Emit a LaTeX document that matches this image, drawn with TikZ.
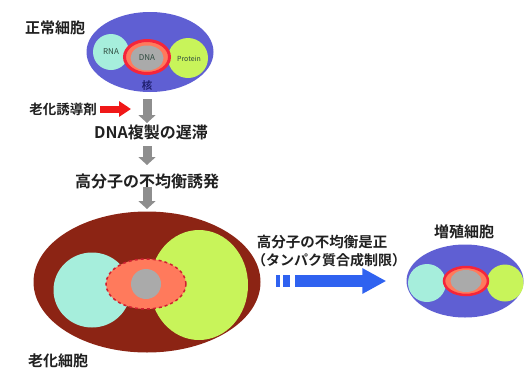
\documentclass[tikz,border=0pt]{standalone}
\usepackage{fontspec}
\newfontfamily\jp{Noto Sans CJK JP Bold}
\newfontfamily\jpl{Noto Sans CJK JP}
\usetikzlibrary{shapes.geometric,arrows.meta}
\definecolor{cellblue}{HTML}{5F5FD3}
\definecolor{rnacyan}{HTML}{A6EEDC}
\definecolor{protgreen}{HTML}{C8F45A}
\definecolor{oldbrown}{HTML}{8C2414}
\definecolor{nucorange}{HTML}{FF7A5C}
\definecolor{nucred}{HTML}{F5253A}
\definecolor{dnagray}{HTML}{AAAAAA}
\definecolor{arrgray}{HTML}{8E8E8E}
\definecolor{arrblue}{HTML}{2F62F0}
\definecolor{arrred}{HTML}{F01818}
\definecolor{txt}{HTML}{202020}
\definecolor{navy}{HTML}{202070}
\definecolor{smalltxt}{HTML}{2E4A3E}
\begin{document}
\begin{tikzpicture}[x=1pt,y=-1pt,
  blob/.style={ellipse,inner sep=0pt,draw=none},
  label/.style={font=\jp\fontsize{15}{15}\selectfont,text=txt,inner sep=0pt},
  small/.style={font=\jpl\fontsize{8}{8}\selectfont,text=smalltxt,inner sep=0pt},
  grayarrow/.style={draw=arrgray,line width=9pt,-{Triangle[width=17pt,length=8pt]}},
  redarrow/.style={draw=arrred,line width=7pt,-{Triangle[width=15pt,length=12pt]}},
  bluearrow/.style={draw=arrblue,line width=12pt,-{Triangle[width=24pt,length=24pt]}}]
\useasboundingbox (0,0) rectangle (524,367);

% normal cell
\node[blob,fill=cellblue,minimum width=127pt,minimum height=80pt] (nc) at (150,52) {};
\node[blob,fill=rnacyan,minimum size=36pt] (rna) at (111,52) {};
\node[blob,fill=protgreen,minimum size=40pt] (prot) at (188,58) {};
\node[blob,fill=nucorange,draw=nucred,line width=3pt,minimum width=45pt,minimum height=33pt] (nuc) at (147,57) {};
\node[blob,fill=dnagray,minimum width=33pt,minimum height=25pt] (dna) at (147,58) {};
\node[small] at (rna.center) {RNA};
\node[small] at (dna.center) {DNA};
\node[small,font=\jpl\fontsize{7}{7}\selectfont] at (189,59) {Protein};
\node[label,font=\jp\fontsize{10.5}{10.5}\selectfont,text=navy] (kaku) at (147,86) {核};
\node[label] (tnormal) at (55,28) {正常細胞};

% induction steps
\node[label,font=\jp\fontsize{13.5}{13.5}\selectfont] (tagent) at (63,109) {老化誘導剤};
\node[label,font=\jp\fontsize{16}{16}\selectfont] (tdna) at (151,132) {DNA複製の遅滞};
\node[label,font=\jp\fontsize{16}{16}\selectfont] (timb) at (147,181) {高分子の不均衡誘発};
\coordinate (redend) at (131,109);
\coordinate (g1a) at (147,99);
\coordinate (g1b) at (147,123);
\coordinate (g2a) at (147,146);
\coordinate (g2b) at (147,165);
\coordinate (g3a) at (147,187);
\coordinate (g3b) at (147,209);
\draw[redarrow] ([xshift=3pt]tagent.east) -- (redend);
\draw[grayarrow] (g1a) -- (g1b);
\draw[grayarrow] (g2a) -- (g2b);

% senescent cell
\node[blob,fill=oldbrown,minimum width=227pt,minimum height=141pt] (oc) at (147,282) {};
\draw[grayarrow] (g3a) -- (g3b);
\node[blob,fill=rnacyan,minimum width=77pt,minimum height=75pt] (orna) at (92,290) {};
\node[blob,fill=protgreen,minimum width=98pt,minimum height=110pt] (oprot) at (199,285) {};
\node[blob,fill=nucorange,draw=nucred!85!black,line width=1.5pt,dashed,minimum width=80pt,minimum height=50pt] (onuc) at (146,284) {};
\node[blob,fill=dnagray,minimum size=30pt] (odna) at (146,284) {};
\node[label] (told) at (58,361) {老化細胞};

% correction and proliferating cell
\node[label,font=\jp\fontsize{14.5}{14.5}\selectfont] (tfix) at (322,242) {高分子の不均衡是正};
\node[label,font=\jp\fontsize{14}{14}\selectfont] (tfixb) at (329,260) {（タンパク質合成制限）};
\node[blob,fill=cellblue,minimum width=117pt,minimum height=73pt] (pc) at (465,281) {};
\node[blob,fill=rnacyan,minimum size=38pt] (prna) at (427,283) {};
\node[blob,fill=protgreen,minimum size=37pt] (pprot) at (505,283) {};
\node[blob,fill=nucorange,draw=nucred,line width=2.5pt,minimum width=44pt,minimum height=28pt] (pnuc) at (466,281) {};
\node[blob,fill=dnagray,minimum width=31pt,minimum height=22pt] (pdna) at (466,281) {};
\node[label] (tpro) at (464,232) {増殖細胞};
\fill[arrblue] (276,275) rectangle (279.5,287);
\fill[arrblue] (282.5,275) rectangle (290,287);
\coordinate (bstart) at (295,281);
\draw[bluearrow] (bstart) -- ([xshift=-20pt]pc.west);
\end{tikzpicture}
\end{document}
